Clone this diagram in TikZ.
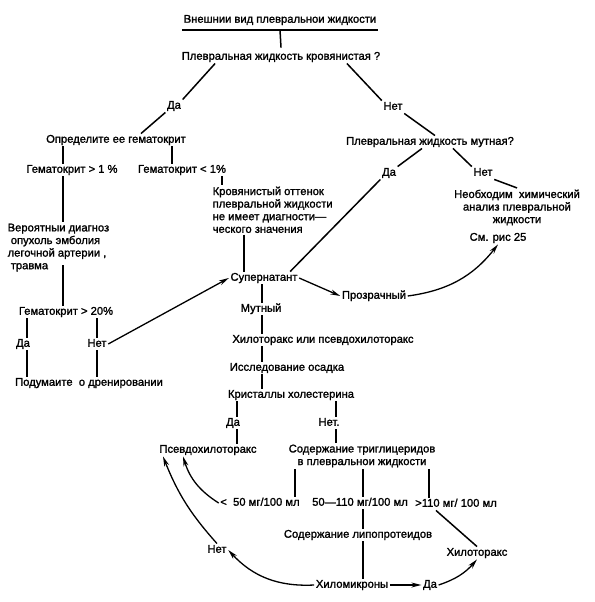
\documentclass[tikz,border=0pt]{standalone}
\usepackage{fontspec}
\setmainfont[FakeBold=1.5]{Liberation Sans}
\usetikzlibrary{arrows.meta}
\begin{document}
\begin{tikzpicture}[x=1pt,y=-1pt,
  every node/.style={inner sep=1.5pt,font=\fontsize{11.2}{12.6}\selectfont},
  txt/.style={text height=7.5pt,text depth=2pt},
  ln/.style={line width=1.5pt},
  arr/.style={line width=1.3pt,-{Stealth[length=10pt,width=5pt]}}]
\useasboundingbox (0,0) rectangle (594,602);
% nodes
\node[txt] (t0) at (280,20) {Внешнии вид плевральнои жидкости};
\node[txt] (q1) at (281,57) {Плевральная жидкость кровянистая ?};
\node[txt] (da1) at (174,106) {Да};
\node[txt] (opr) at (116,140) {Определите ее гематокрит};
\node[txt] (net1) at (393,107) {Нет};
\node[txt] (q2) at (430,142) {Плевральная жидкость мутная?};
\node[txt] (gk1) at (72,170) {Гематокрит > 1 \%};
\node[txt] (gk2) at (182,170) {Гематокрит < 1\%};
\node[align=left,anchor=north west] (krov) at (211,185) {Кровянистый оттенок\\плевральной жидкости\\не имеет диагности—\\ческого значения};
\node[txt] (da2) at (389,173) {Да};
\node[txt] (net2) at (483,173) {Нет};
\node[align=center] (him) at (517,207.5) {Необходим\ \ химический\\анализ плевральной\\жидкости};
\node[txt] (sm) at (498,238) {См. рис 25};
\node[align=left,anchor=north west] (ver) at (6,222) {Вероятныи диагноз\\\ опухоль эмболия\\легочной артерии ,\\\ травма};
\node[txt] (sup) at (264,278) {Супернатант};
\node[txt] (proz) at (374,296) {Прозрачный};
\node[txt] (gk3) at (66,312) {Гематокрит > 20\%};
\node[txt] (mut) at (261,309) {Мутный};
\node[txt] (hil) at (323,340) {Хилоторакс или псевдохилоторакс};
\node[txt] (da3) at (23,344) {Да};
\node[txt] (net3) at (97,344) {Нет};
\node[txt] (iss) at (287,368) {Исследование осадка};
\node[txt] (pod) at (89,383) {Подумаите\ \ о дренировании};
\node[txt] (kri) at (291,395) {Кристаллы холестерина};
\node[txt] (da4) at (233,423) {Да};
\node[txt] (net4) at (329,423) {Нет.};
\node[txt] (psv) at (208,450) {Псевдохилоторакс};
\node[align=center] (trg) at (362,456) {Содержание триглицеридов\\в плевральнои жидкости};
\node[txt] (l50) at (260,503) {<\ \ 50 мг/100 мл};
\node[txt] (m50) at (360,503) {50—110 мг/100 мл};
\node[txt] (g110) at (456,504) {>110 мг/ 100 мл};
\node[txt] (lip) at (358,535) {Содержание липопротеидов};
\node[txt] (hilr) at (477,553) {Хилоторакс};
\node[txt] (net5) at (217,550) {Нет};
\node[txt] (him2) at (352,585) {Хиломикроны};
\node[txt] (da5) at (430,585) {Да};
\path (ver.south) ++(0,-8) coordinate (verb);
% connectors
\draw[ln] ([yshift=-3.5pt]t0.south west) -- ([yshift=-3.5pt]t0.south east);
\draw[ln] ([yshift=-3.5pt]t0.south) -- ([yshift=3pt]q1.north);
\draw[ln] ([xshift=35pt]q1.south west) -- (da1.north east);
\draw[ln] (da1.south west) -- ([xshift=25pt]opr.north);
\draw[ln] ([xshift=-35pt]q1.south east) -- (net1.north west);
\draw[ln] (net1.south east) -- ([xshift=5pt]q2.north);
\draw[ln] ([xshift=-8pt]q2.south) -- (da2.north east);
\draw[ln] ([xshift=23pt]q2.south) -- (net2.north west);
\draw[ln] (net2.south east) -- (him.north);
\draw[ln] (opr.south -| 63,0) -- (gk1.north -| 63,0);
\draw[ln] (opr.south -| 172,0) -- (gk2.north -| 172,0);
\draw[ln] (gk2.south -| 222,0) -- (krov.north -| 222,0);
\draw[ln] (gk1.south -| 63,0) -- (ver.north -| 63,0);
\draw[ln] (verb -| 63,0) -- (gk3.north -| 63,0);
\draw[ln] (krov.south -| 244,0) -- (sup.north -| 244,0);
\draw[ln] (da2.south west) -- ([xshift=-9pt]sup.north east);
\draw[arr] (sup.east) -- (proz.west);
\draw[arr] (proz.east) to[bend right=22] (sm.south);
\draw[ln] (gk3.south -| 27,0) -- (da3.north -| 27,0);
\draw[ln] (da3.south -| 27,0) -- (pod.north -| 27,0);
\draw[ln] (gk3.south -| 97,0) -- (net3.north);
\draw[ln] (net3.south) -- (pod.north -| 97,0);
\draw[arr] (net3.east) -- (sup.west);
\draw[ln] (sup.south -| 262,0) -- (mut.north -| 262,0);
\draw[ln] (mut.south -| 262,0) -- (hil.north -| 262,0);
\draw[ln] (hil.south -| 262,0) -- (iss.north -| 262,0);
\draw[ln] (iss.south -| 262,0) -- (kri.north -| 262,0);
\draw[ln] (kri.south -| 237,0) -- (da4.north -| 237,0);
\draw[ln] (da4.south -| 237,0) -- (psv.north -| 237,0);
\draw[ln] (kri.south -| 336,0) -- (net4.north -| 336,0);
\draw[ln] (net4.south -| 336,0) -- (trg.north -| 336,0);
\draw[ln] (trg.south -| 295,0) -- (l50.north -| 295,0);
\draw[ln] (trg.south -| 363,0) -- (m50.north -| 363,0);
\draw[ln] (trg.south -| 429,0) -- (g110.north -| 429,0);
\draw[ln] (m50.south -| 363,0) -- (lip.north -| 363,0);
\draw[ln] (lip.south -| 363,0) -- (him2.north -| 363,0);
\draw[ln] ([xshift=-20pt]g110.south) -- (hilr.north);
\draw[arr] (him2.east) -- (da5.west);
\draw[arr] (da5.east) to[bend right=15] (hilr.south);
\draw[arr] (him2.west) to[bend left=25] (net5.east);
\draw[arr] (net5.north) to[bend left=10] ([xshift=-45pt]psv.south);
\draw[arr] (l50.west) to[bend left=20] ([xshift=-25pt]psv.south);
\end{tikzpicture}
\end{document}
